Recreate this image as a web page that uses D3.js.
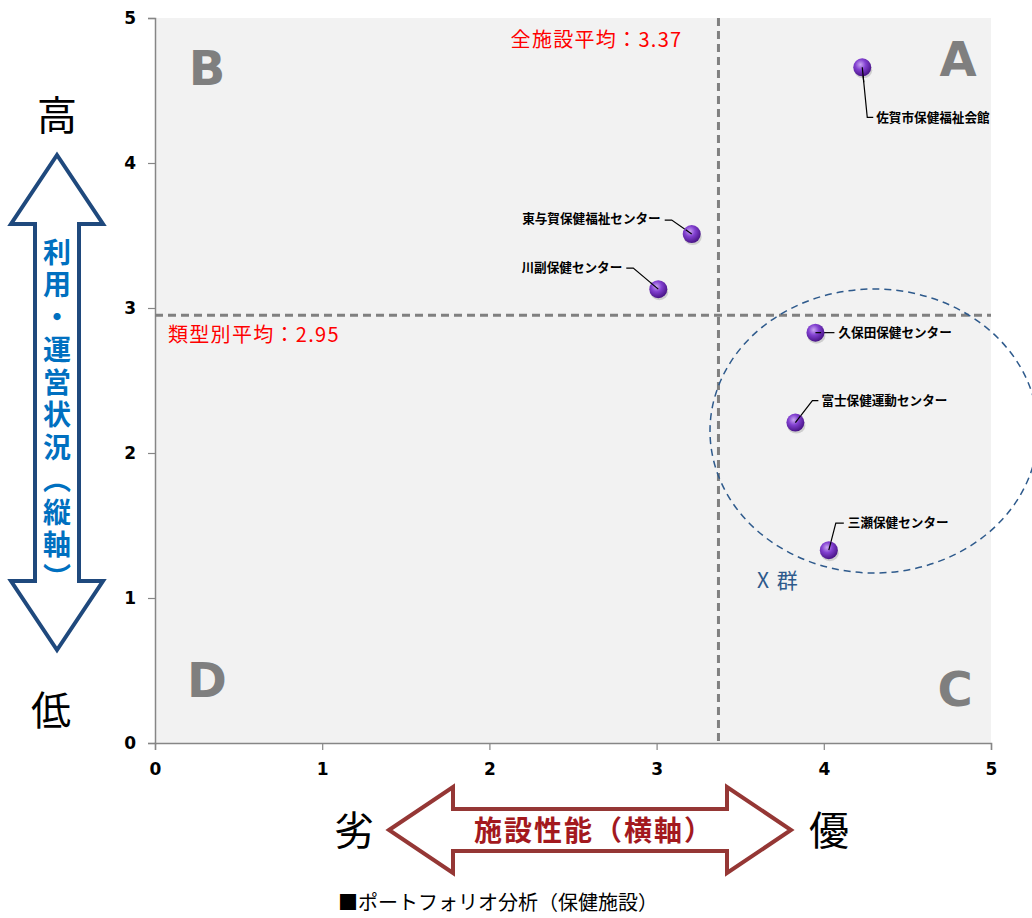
<!DOCTYPE html>
<html><head><meta charset="utf-8">
<script src="https://cdn.jsdelivr.net/npm/d3@7"></script>
<style>
html,body{margin:0;padding:0;background:#fff;}
svg{display:block;}
</style></head>
<body>
<script>
// ---- data ----
const facilities = ["佐賀市保健福祉会館","東与賀保健福祉センター","川副保健センター","久保田保健センター","富士保健運動センター","三瀬保健センター"];
const performance = [4.23, 3.21, 3.01, 3.95, 3.83, 4.03];   // 施設性能 (x)
const usage       = [4.66, 3.51, 3.13, 2.83, 2.21, 1.33];   // 利用・運営状況 (y)
const allAverage = 3.37;
const typeAverage = 2.95;
const xTicks = [0,1,2,3,4,5];
const yTicks = [0,1,2,3,4,5];
const quadrants = ["A","B","C","D"];

// label layout (pixel offsets relative to point): leader points and text anchor
const labelLayout = [
  {pts:[[0,0],[5,50],[11,50]], tx:14, ty:50, anchor:"start"},
  {pts:[[0,0],[-20,-14],[-27,-14]], tx:-31, ty:-15, anchor:"end"},
  {pts:[[0,0],[-25,-21],[-32,-21]], tx:-36, ty:-22, anchor:"end"},
  {pts:[[0,0],[19,0]], tx:23, ty:0, anchor:"start"},
  {pts:[[0,0],[17,-22],[23,-22]], tx:26, ty:-22, anchor:"start"},
  {pts:[[0,0],[7,-27],[15,-27]], tx:19, ty:-28, anchor:"start"}
];

const W=1032,H=918;
const svg=d3.select("body").append("svg").attr("width",W).attr("height",H);
const L=155,R=991,T=18,B=743;
const x=d3.scaleLinear().domain([0,5]).range([L,R]);
const y=d3.scaleLinear().domain([0,5]).range([B,T]);

const defs=svg.append("defs");
const grad=defs.append("radialGradient").attr("id","ball").attr("cx","40%").attr("cy","35%").attr("r","65%");
grad.append("stop").attr("offset","0%").attr("stop-color","#c9a6f2");
grad.append("stop").attr("offset","45%").attr("stop-color","#8240d0");
grad.append("stop").attr("offset","100%").attr("stop-color","#4a1588");

// plot background
svg.append("rect").attr("x",L).attr("y",T).attr("width",R-L).attr("height",B-T).attr("fill","#f2f2f2");

// quadrant letters
const qpos={A:[958,76],B:[207,85],C:[955,706],D:[207,697]};
svg.selectAll("text.q").data(quadrants).join("text").attr("class","q")
  .attr("x",d=>qpos[d][0]).attr("y",d=>qpos[d][1]).attr("text-anchor","middle")
  .attr("font-family","'DejaVu Sans',Verdana,sans-serif").attr("font-weight","bold")
  .attr("font-size",48).attr("fill","#7f7f7f").text(d=>d);

// axes
const axisColor="#868686";
const gy=svg.append("g").attr("transform",`translate(${L},0)`).call(d3.axisLeft(y).tickValues(yTicks).tickFormat(d3.format("d")).tickSize(7).tickPadding(12));
const gx=svg.append("g").attr("transform",`translate(0,${B})`).call(d3.axisBottom(x).tickValues(xTicks).tickFormat(d3.format("d")).tickSize(7).tickPadding(13));
[gx,gy].forEach(g=>{
  g.attr("font-size",null).attr("font-family",null);
  g.select(".domain").attr("stroke",axisColor).attr("stroke-width",1.5);
  g.selectAll(".tick line").attr("stroke",axisColor).attr("stroke-width",1.2);
  g.selectAll(".tick text").style("font-family","'DejaVu Sans',sans-serif").style("font-weight","bold").style("font-size","17px").attr("fill","#000");
});

// average lines
svg.append("line").attr("x1",x(allAverage)).attr("x2",x(allAverage)).attr("y1",T).attr("y2",B)
  .attr("stroke","#808080").attr("stroke-width",3).attr("stroke-dasharray","8,5");
svg.append("line").attr("x1",L).attr("x2",R).attr("y1",y(typeAverage)).attr("y2",y(typeAverage))
  .attr("stroke","#808080").attr("stroke-width",3).attr("stroke-dasharray","8,5");
svg.append("text").attr("x",x(allAverage)-36).attr("y",47).attr("text-anchor","end")
  .attr("font-family","'Noto Sans CJK JP',sans-serif").attr("font-size",20).attr("letter-spacing",1.3)
  .attr("fill","#ff0000").text("全施設平均：" + allAverage.toFixed(2));
svg.append("text").attr("x",168).attr("y",342).attr("text-anchor","start")
  .attr("font-family","'Noto Sans CJK JP',sans-serif").attr("font-size",20).attr("letter-spacing",1.3)
  .attr("fill","#ff0000").text("類型別平均：" + typeAverage.toFixed(2));

// group ellipse
svg.append("ellipse").attr("cx",874).attr("cy",431).attr("rx",164).attr("ry",142)
  .attr("fill","none").attr("stroke","#2e5a8c").attr("stroke-width",1.5).attr("stroke-dasharray","7,5");
svg.append("text").attr("x",757).attr("y",588).attr("font-family","'Noto Sans CJK JP',sans-serif")
  .attr("font-size",21).attr("letter-spacing",1.5).attr("fill","#2e5a8c").text("X 群");

// leader lines + labels
const pts=facilities.map((n,i)=>({name:n,px:x(performance[i]),py:y(usage[i]),lay:labelLayout[i]}));
svg.selectAll("path.leader").data(pts).join("path").attr("class","leader")
  .attr("d",d=>d3.line()(d.lay.pts.map(p=>[d.px+p[0],d.py+p[1]])))
  .attr("fill","none").attr("stroke","#000").attr("stroke-width",1.2);
svg.selectAll("text.lab").data(pts).join("text").attr("class","lab")
  .attr("x",d=>d.px+d.lay.tx).attr("y",d=>d.py+d.lay.ty).attr("dy","0.35em")
  .attr("text-anchor",d=>d.lay.anchor)
  .attr("font-family","'Noto Sans CJK JP',sans-serif").attr("font-weight","bold").attr("font-size",12.6)
  .attr("fill","#000").text(d=>d.name);
// balls
svg.selectAll("ellipse.sh").data(pts).join("ellipse").attr("class","sh")
  .attr("cx",d=>d.px+1).attr("cy",d=>d.py+3).attr("rx",9).attr("ry",8).attr("fill","rgba(0,0,0,0.15)");
svg.selectAll("circle.pt").data(pts).join("circle").attr("class","pt")
  .attr("cx",d=>d.px).attr("cy",d=>d.py).attr("r",9).attr("fill","url(#ball)");
svg.selectAll("line.lead2").data(pts).join("line").attr("class","lead2")
  .attr("x1",d=>d.px).attr("y1",d=>d.py)
  .attr("x2",d=>d.px+(d.lay.pts[1][0])*0.3).attr("y2",d=>d.py+(d.lay.pts[1][1])*0.3)
  .attr("stroke","#000").attr("stroke-width",1.2);

// vertical double arrow
const vx=57, vtop=155, vhb1=224, vhb2=581, vbot=650, hw=46, sw=22;
const vpath=`M${vx},${vtop} L${vx+hw},${vhb1} L${vx+sw},${vhb1} L${vx+sw},${vhb2} L${vx+hw},${vhb2} L${vx},${vbot} L${vx-hw},${vhb2} L${vx-sw},${vhb2} L${vx-sw},${vhb1} L${vx-hw},${vhb1} Z`;
svg.append("path").attr("d",vpath).attr("fill","#fff").attr("stroke","#1f497d").attr("stroke-width",4).attr("stroke-linejoin","miter");
svg.append("text").attr("x",vx).attr("y",238)
  .style("writing-mode","vertical-rl").attr("text-anchor","start")
  .attr("font-family","'Noto Sans CJK JP',sans-serif").attr("font-weight","bold").attr("font-size",28)
  .attr("letter-spacing",4.5).attr("fill","#0070c0").text("利用・運営状況（縦軸）");
svg.append("text").attr("x",57).attr("y",130).attr("text-anchor","middle")
  .attr("font-family","'Noto Sans CJK JP',sans-serif").attr("font-size",40).attr("fill","#000").text("高");
svg.append("text").attr("x",51).attr("y",725).attr("text-anchor","middle")
  .attr("font-family","'Noto Sans CJK JP',sans-serif").attr("font-size",40).attr("fill","#000").text("低");

// horizontal double arrow
const hy=830, hl=389, hb1=453, hb2=727, hr=791, hh=43, hs=21;
const hpath=`M${hl},${hy} L${hb1},${hy-hh} L${hb1},${hy-hs} L${hb2},${hy-hs} L${hb2},${hy-hh} L${hr},${hy} L${hb2},${hy+hh} L${hb2},${hy+hs} L${hb1},${hy+hs} L${hb1},${hy+hh} Z`;
svg.append("path").attr("d",hpath).attr("fill","#fff").attr("stroke","#953735").attr("stroke-width",4);
svg.append("text").attr("x",594).attr("y",841).attr("text-anchor","middle")
  .attr("font-family","'Noto Sans CJK JP',sans-serif").attr("font-weight","bold").attr("font-size",28)
  .attr("letter-spacing",2).attr("fill","#a3191e").text("施設性能（横軸）");
svg.append("text").attr("x",354).attr("y",845).attr("text-anchor","middle")
  .attr("font-family","'Noto Sans CJK JP',sans-serif").attr("font-size",40).attr("fill","#000").text("劣");
svg.append("text").attr("x",829).attr("y",845).attr("text-anchor","middle")
  .attr("font-family","'Noto Sans CJK JP',sans-serif").attr("font-size",40).attr("fill","#000").text("優");

// caption
svg.append("text").attr("x",338).attr("y",910)
  .attr("font-family","'Noto Sans CJK JP',sans-serif").attr("font-size",20).attr("fill","#000").text("■ポートフォリオ分析（保健施設）");
</script>
</body></html>
